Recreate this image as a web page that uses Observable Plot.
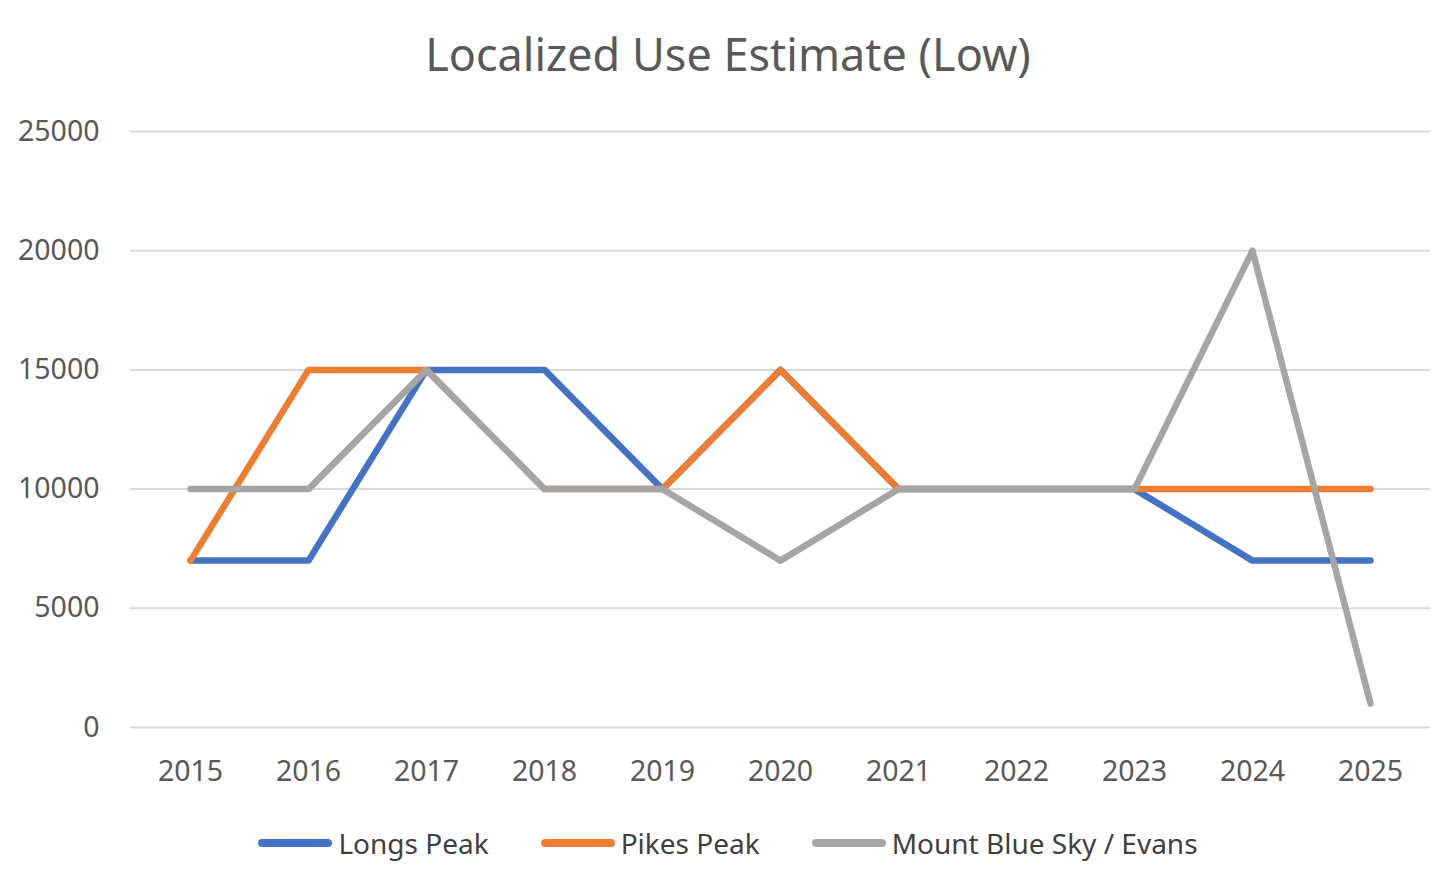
<!DOCTYPE html>
<html>
<head>
<meta charset="utf-8">
<script src="https://cdn.jsdelivr.net/npm/d3@7"></script>
<script src="https://cdn.jsdelivr.net/npm/@observablehq/plot@0.6"></script>
<style>
  html, body { margin: 0; padding: 0; background: #fff; }
  body { width: 1456px; height: 889px; overflow: hidden; font-family: "Noto Sans", sans-serif; color: #595959; }
  #title { height: 100px; line-height: 108px; text-align: center; font-size: 45px; color: #595959; }
  #legend { height: 89px; display: flex; justify-content: center; align-items: center; font-size: 28px; color: #404040; padding-bottom: 4px; box-sizing: border-box; }
  .item { display: flex; align-items: center; margin: 0 26px; }
  .sw { width: 74px; height: 8px; border-radius: 4px; margin-right: 6px; }
</style>
</head>
<body>
<div id="title">Localized Use Estimate (Low)</div>
<div id="chart"></div>
<div id="legend"></div>
<script>
const years = ["2015","2016","2017","2018","2019","2020","2021","2022","2023","2024","2025"];
const seriesNames = ["Longs Peak", "Pikes Peak", "Mount Blue Sky / Evans"];
const seriesColors = ["#4472C4", "#ED7D31", "#A5A5A5"];
const longsPeak = [7000, 7000, 15000, 15000, 10000, 15000, 10000, 10000, 10000, 7000, 7000];
const pikesPeak = [7000, 15000, 15000, 10000, 10000, 15000, 10000, 10000, 10000, 10000, 10000];
const mountBlueSky = [10000, 10000, 15000, 10000, 10000, 7000, 10000, 10000, 10000, 20000, 1000];
const yTicks = [0, 5000, 10000, 15000, 20000, 25000];

const seriesValues = [longsPeak, pikesPeak, mountBlueSky];
const toRows = (vals) => years.map((y, i) => ({year: y, value: vals[i]}));

const lineMarks = seriesValues.map((vals, k) =>
  Plot.line(toRows(vals), {
    x: "year", y: "value",
    stroke: seriesColors[k], strokeWidth: 6.5,
    strokeLinecap: "round", strokeLinejoin: "round"
  })
);

const plot = Plot.plot({
  width: 1456,
  height: 700,
  marginLeft: 130,
  marginRight: 26,
  marginTop: 31,
  marginBottom: 73,
  style: { fontFamily: "Noto Sans, sans-serif", fontSize: "28.5px", color: "#595959", background: "#fff" },
  x: { type: "point", domain: years, padding: 0.5, label: null },
  y: { domain: [0, 25000], ticks: yTicks, label: null },
  marks: [
    Plot.gridY(yTicks, { stroke: "#d9d9d9", strokeOpacity: 1, strokeWidth: 2 }),
    Plot.axisY(yTicks, { tickSize: 0, tickPadding: 31, tickFormat: d => String(d), fill: "#595959", label: null }),
    Plot.axisX({ tickSize: 0, tickPadding: 33, fill: "#595959", label: null }),
    ...lineMarks
  ]
});
document.getElementById("chart").appendChild(plot);

const legend = document.getElementById("legend");
seriesNames.forEach((name, k) => {
  const item = document.createElement("div");
  item.className = "item";
  const sw = document.createElement("div");
  sw.className = "sw";
  sw.style.background = seriesColors[k];
  const t = document.createElement("span");
  t.textContent = name;
  item.appendChild(sw);
  item.appendChild(t);
  legend.appendChild(item);
});
</script>
</body>
</html>
